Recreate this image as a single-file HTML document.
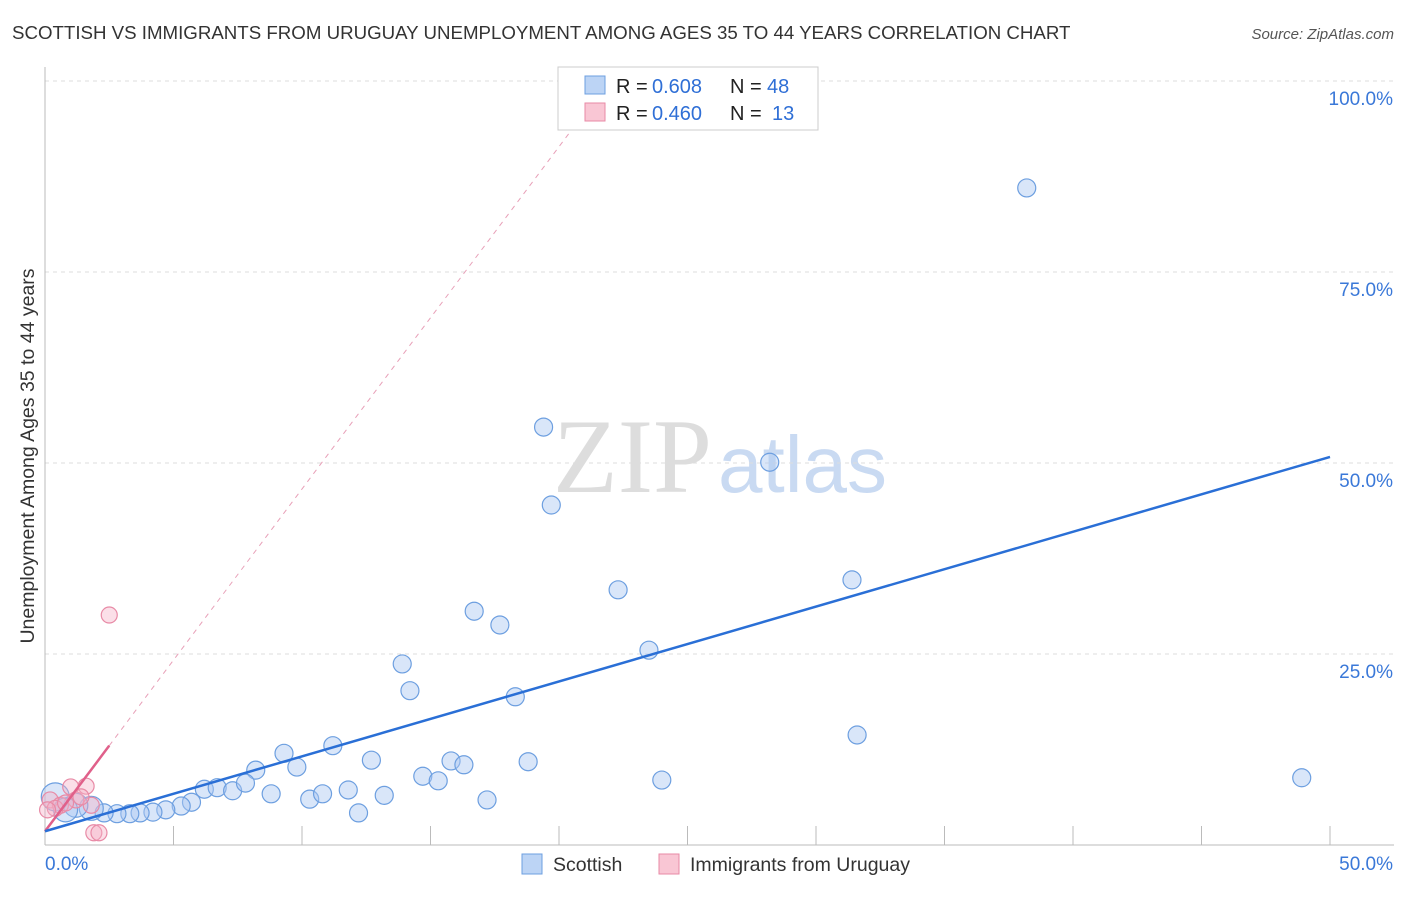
<!DOCTYPE html>
<html><head><meta charset="utf-8"><style>
body{margin:0;background:#fff;font-family:"Liberation Sans",sans-serif}
svg text{font-family:"Liberation Sans",sans-serif}
</style></head><body>
<svg id="c" width="1406" height="892">
<text x="12" y="39" font-size="18.7" fill="#333">SCOTTISH VS IMMIGRANTS FROM URUGUAY UNEMPLOYMENT AMONG AGES 35 TO 44 YEARS CORRELATION CHART</text>
<text x="1394" y="39" font-size="15" fill="#555" font-style="italic" text-anchor="end">Source: ZipAtlas.com</text>
<text x="34" y="456" font-size="19.5" fill="#333" text-anchor="middle" transform="rotate(-90 34 456)">Unemployment Among Ages 35 to 44 years</text>
<text x="553" y="492" font-size="106" fill="#ddd" style="font-family:'Liberation Serif',serif">ZIP</text>
<text x="718" y="492" font-size="80" fill="#c9daf2">atlas</text>
<g id="grid"></g><g id="axes"></g><g id="pts"></g><g id="lines"></g>
<rect x="558" y="67" width="260" height="63" fill="#fff" stroke="#ccc"/>
<rect x="585" y="76" width="20" height="18" fill="#bcd4f5" stroke="#6d9fe0"/>
<rect x="585" y="103" width="20" height="18" fill="#f9c6d4" stroke="#e88aa6"/>
<g font-size="20">
<text x="616" y="93" fill="#222">R =</text><text x="652" y="93" fill="#2f6fd6">0.608</text><text x="730" y="93" fill="#222">N =</text><text x="767" y="93" fill="#2f6fd6">48</text>
<text x="616" y="120" fill="#222">R =</text><text x="652" y="120" fill="#2f6fd6">0.460</text><text x="730" y="120" fill="#222">N =</text><text x="772" y="120" fill="#2f6fd6">13</text>
</g>
<rect x="522" y="854" width="20" height="20" fill="#bcd4f5" stroke="#6d9fe0"/>
<text x="553" y="871" font-size="19.5" fill="#333">Scottish</text>
<rect x="659" y="854" width="20" height="20" fill="#f9c6d4" stroke="#e88aa6"/>
<text x="690" y="871" font-size="19.5" fill="#333">Immigrants from Uruguay</text>
</svg>
<script>
const yTicks=[25,50,75,100];
const yTickLabels=["25.0%","50.0%","75.0%","100.0%"];
const xTickLabels=["0.0%","50.0%"];
const scotX=[38.2,19.4,28.2,19.7,31.4,22.3,16.7,17.7,23.5,13.9,14.2,18.3,31.6,11.2,9.3,12.7,15.8,16.3,18.8,9.8,8.2,14.7,15.3,24.0,48.9,6.2,6.7,7.3,7.8,8.8,10.3,10.8,11.8,13.2,17.2,12.2,5.7,5.3,4.7,4.2,3.7,3.3,2.8,2.3,1.8,1.2,0.4,0.8];
const scotY=[86.0,54.7,50.1,44.5,34.7,33.4,30.6,28.8,25.5,23.7,20.2,19.4,14.4,13.0,12.0,11.1,11.0,10.5,10.9,10.2,9.8,9.0,8.4,8.5,8.8,7.3,7.5,7.1,8.1,6.7,6.0,6.7,7.2,6.5,5.9,4.2,5.6,5.1,4.6,4.3,4.2,4.1,4.1,4.2,4.8,5.2,6.3,4.6];
const uruX=[2.5,1.0,1.6,0.2,0.6,1.2,1.8,1.9,2.1,0.4,0.8,1.4,0.1];
const uruY=[30.1,7.6,7.7,5.9,5.2,5.9,5.2,1.6,1.6,4.8,5.5,6.3,4.6];
const scotLine=[1.8,50.8];
const uruLine=[1.8,13.0];
const NS="http://www.w3.org/2000/svg";
const sx=v=>45+v*25.7, sy=v=>845-v*7.64;
function mk(t,a,p){const e=document.createElementNS(NS,t);for(const k in a)e.setAttribute(k,a[k]);p.appendChild(e);return e;}
const g=document.getElementById('grid'),ax=document.getElementById('axes'),pts=document.getElementById('pts'),ln=document.getElementById('lines');
yTicks.forEach((t,i)=>{
 const l=mk('line',{x1:45,x2:1394,y1:sy(t),y2:sy(t),stroke:'#ddd','stroke-dasharray':'4,4'},g);
 
 
 const tx=mk('text',{x:1393,y:sy(t)+24,'font-size':19,fill:'#3a78d8','text-anchor':'end'},ax);tx.textContent=yTickLabels[i];
 
 
});
const yl=mk('line',{x1:45,x2:45,y1:67,y2:845,stroke:'#bbb'},ax);


const xl=mk('line',{x1:45,x2:1394,y1:845,y2:845,stroke:'#bbb'},ax);


for(let k=1;k<=10;k++){const t=mk('line',{x1:sx(k*5),x2:sx(k*5),y1:826,y2:845,stroke:'#bbb'},ax);
 
 }
[[0,'start',45],[50,'end',1393]].forEach((d,i)=>{const t=mk('text',{x:d[2],y:870,'font-size':19,fill:'#3a78d8','text-anchor':d[1]},ax);t.textContent=xTickLabels[i];
 
 });
scotX.forEach((x,i)=>{const r=i>=44?(i===46?14:12):9;
 const c=mk('circle',{cx:sx(x),cy:sy(scotY[i]),r:r,fill:'rgba(170,200,242,0.45)',stroke:'#6d9fe0','stroke-width':1.2},pts);
 
 });
uruX.forEach((x,i)=>{const c=mk('circle',{cx:sx(x),cy:sy(uruY[i]),r:8,fill:'rgba(245,175,198,0.4)',stroke:'#e88aa6','stroke-width':1.2},pts);
 
 });
const slope=(uruLine[1]-uruLine[0])/2.5;
const dl=mk('line',{x1:sx(2.5),y1:sy(uruLine[1]),x2:sx(20.5),y2:sy(uruLine[0]+slope*20.5),stroke:'#e8a0b8','stroke-dasharray':'5,5','stroke-width':1},ln);


const ul=mk('line',{x1:sx(0),y1:sy(uruLine[0]),x2:sx(2.5),y2:sy(uruLine[1]),stroke:'#e0608a','stroke-width':2.5},ln);


const bl=mk('line',{x1:sx(0),y1:sy(scotLine[0]),x2:sx(50),y2:sy(scotLine[1]),stroke:'#2a6fd6','stroke-width':2.5},ln);


</script>
</body></html>
